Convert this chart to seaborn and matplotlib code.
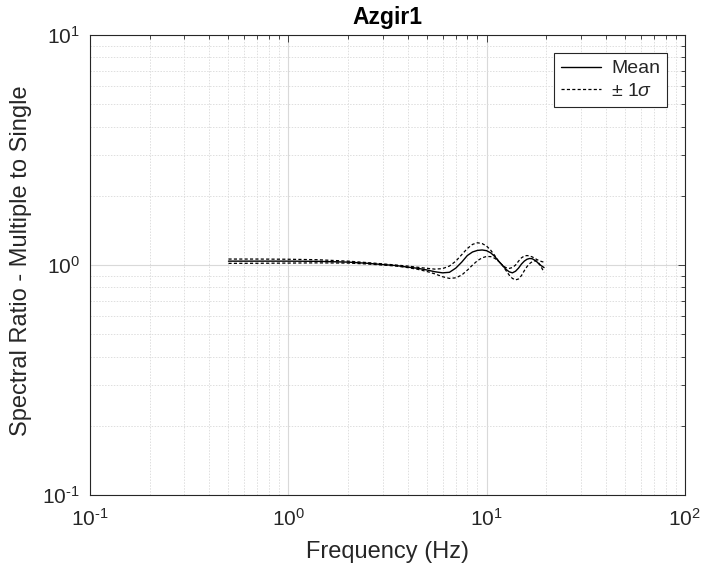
import matplotlib
matplotlib.use("Agg")
import matplotlib.pyplot as plt
import seaborn as sns
import pandas as pd
import numpy as np
from matplotlib.ticker import LogLocator, NullFormatter, FuncFormatter

freq = [0.5, 0.7, 1.0, 1.4, 2.0, 2.5, 3.0, 3.5, 4.0, 4.5, 5.0, 5.5, 6.0, 6.5,
        7.0, 7.5, 8.0, 8.5, 9.0, 9.5, 10.0, 10.5, 11.0, 11.5, 12.0, 12.5, 13.0,
        13.5, 14.0, 14.5, 15.0, 15.5, 16.0, 16.5, 17.0, 17.5, 18.0, 18.5, 19.0,
        19.5]
mean_vals = [1.04, 1.04, 1.04, 1.038, 1.03, 1.018, 1.005, 0.995, 0.98, 0.968,
             0.952, 0.935, 0.925, 0.93, 0.97, 1.03, 1.10, 1.14, 1.158, 1.163,
             1.155, 1.13, 1.09, 1.04, 1.0, 0.96, 0.935, 0.925, 0.94, 0.97,
             1.01, 1.04, 1.06, 1.068, 1.065, 1.05, 1.03, 1.005, 0.99, 0.975]
upper_vals = [1.062, 1.062, 1.06, 1.055, 1.04, 1.025, 1.012, 1.0, 0.99, 0.978,
              0.968, 0.96, 0.965, 0.99, 1.04, 1.11, 1.18, 1.23, 1.25, 1.24,
              1.21, 1.16, 1.10, 1.04, 1.0, 0.975, 0.967, 0.975, 1.0, 1.04,
              1.075, 1.095, 1.10, 1.095, 1.085, 1.07, 1.055, 1.045, 1.035, 1.03]
lower_vals = [1.017, 1.018, 1.02, 1.022, 1.02, 1.011, 1.0, 0.99, 0.975, 0.958,
              0.938, 0.915, 0.89, 0.875, 0.88, 0.905, 0.95, 1.0, 1.045, 1.075,
              1.09, 1.088, 1.07, 1.04, 1.0, 0.95, 0.905, 0.875, 0.862, 0.87,
              0.90, 0.945, 0.985, 1.015, 1.035, 1.043, 1.04, 1.01, 0.97, 0.93]

title = "Azgir1"
xlabel = "Frequency (Hz)"
ylabel = "Spectral Ratio - Multiple to Single"
mean_label = "Mean"
sigma_label = "$\\mathregular{\\pm}$ 1$\\mathit{\\sigma}$"

sns.set_style("white")
plt.rcParams["font.family"] = ["Liberation Sans", "DejaVu Sans"]
plt.rcParams["mathtext.fontset"] = "custom"
plt.rcParams["mathtext.it"] = "Liberation Sans:italic"
plt.rcParams["mathtext.rm"] = "Liberation Sans"
plt.rcParams["mathtext.default"] = "regular"

df = pd.DataFrame({"freq": freq, "mean": mean_vals, "upper": upper_vals, "lower": lower_vals})

fig = plt.figure(figsize=(7.02, 5.71), dpi=100)
ax = fig.add_axes([0.128, 0.133, 0.8476, 0.8056])

dash = (0, (2.5, 1.8))
sns.lineplot(data=df, x="freq", y="mean", ax=ax, color="black", lw=1.0,
             label=mean_label, sort=False)
sns.lineplot(data=df, x="freq", y="upper", ax=ax, color="black", lw=0.9,
             linestyle=dash, label=sigma_label, sort=False)
sns.lineplot(data=df, x="freq", y="lower", ax=ax, color="black", lw=0.9,
             linestyle=dash, sort=False)

ax.set_xscale("log")
ax.set_yscale("log")
ax.set_xlim(0.1, 100)
ax.set_ylim(0.1, 10)


def fmt(v, pos):
    e = int(round(np.log10(v)))
    if e < 0:
        return "$10^{\\text{-}%d}$" % (-e)
    return "$10^{%d}$" % e


ax.xaxis.set_major_locator(LogLocator(base=10, numticks=10))
ax.yaxis.set_major_locator(LogLocator(base=10, numticks=10))
ax.xaxis.set_major_formatter(FuncFormatter(fmt))
ax.yaxis.set_major_formatter(FuncFormatter(fmt))
ax.xaxis.set_minor_locator(LogLocator(base=10, subs=np.arange(2, 10), numticks=20))
ax.yaxis.set_minor_locator(LogLocator(base=10, subs=np.arange(2, 10), numticks=20))
ax.xaxis.set_minor_formatter(NullFormatter())
ax.yaxis.set_minor_formatter(NullFormatter())

ax.grid(True, which="major", color="#d9d9d9", lw=0.8, ls="-")
ax.grid(True, which="minor", color="#dedede", lw=0.7, ls=(0, (1.5, 1.5)))
ax.set_axisbelow(True)

edge = "#262626"
for s in ax.spines.values():
    s.set_color(edge)
    s.set_linewidth(0.8)
    s.set_visible(True)
ax.tick_params(which="both", direction="in", top=True, right=True,
               color=edge, labelcolor=edge, width=0.6)
ax.tick_params(which="major", length=5, labelsize=15)
ax.tick_params(axis="x", which="major", pad=9)
ax.tick_params(axis="y", which="major", pad=7)
ax.tick_params(which="minor", length=3)

ax.set_xlabel(xlabel, fontsize=17, color=edge, labelpad=8)
ax.set_ylabel(ylabel, fontsize=17, color=edge)
ax.yaxis.set_label_coords(-0.098, 0.51)
ax.set_title(title, fontsize=16.5, fontweight="bold", color="black", pad=8)

leg = ax.legend(loc="upper right", fontsize=14, frameon=True, fancybox=False,
                edgecolor=edge, framealpha=1, handlelength=2.1,
                borderpad=0.35, labelspacing=0.25, handletextpad=0.5,
                borderaxespad=0, bbox_to_anchor=(0.97, 0.961))
leg.get_frame().set_linewidth(0.8)

fig.savefig("out.png", dpi=100)
